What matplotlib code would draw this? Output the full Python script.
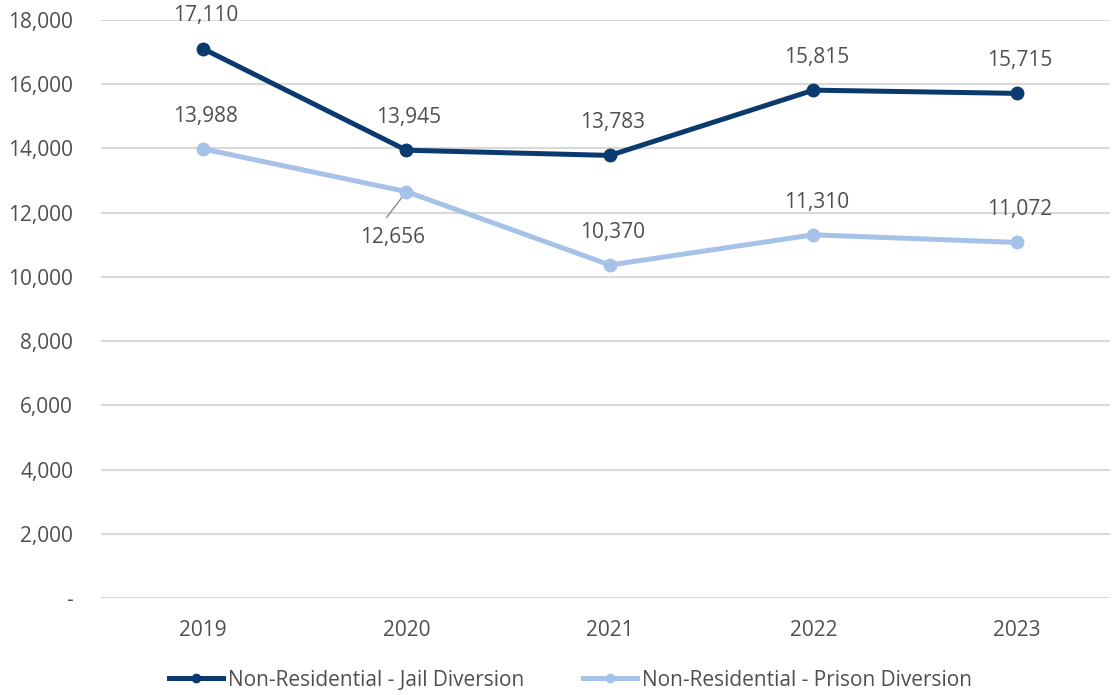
import matplotlib
matplotlib.use('Agg')
from matplotlib import pyplot as plt
from matplotlib.lines import Line2D
from matplotlib.ticker import FuncFormatter

years = ['2019', '2020', '2021', '2022', '2023']
jail = [17110, 13945, 13783, 15815, 15715]
prison = [13988, 12656, 10370, 11310, 11072]

dark = '#0B3A6E'
light = '#A7C2E8'
txt = '#4F4F4F'

plt.rcParams['font.family'] = ['Open Sans', 'DejaVu Sans']

fig = plt.figure(figsize=(11.12, 6.95), dpi=100)
ax = fig.add_axes([101 / 1112, 1 - 598 / 695, (1110 - 101) / 1112, (598 - 20) / 695])

x = list(range(len(years)))
ax.plot(x, jail, color=dark, lw=3.6, marker='o', ms=9, zorder=3)
ax.plot(x, prison, color=light, lw=3.6, marker='o', ms=9, zorder=3)

# Etykiety danych
for i, v in enumerate(jail):
    ax.annotate(f'{v:,}', (i, v), xytext=(2, 23.5), textcoords='offset points',
                ha='center', va='center', fontsize=15, color=txt)
for i, v in enumerate(prison):
    if i == 1:
        ax.annotate(f'{v:,}', (i, v), xytext=(-10, -33), textcoords='offset points',
                    ha='center', va='center', fontsize=15, color=txt, zorder=2,
                    arrowprops=dict(arrowstyle='-', color='#8C8C8C', lw=1,
                                    relpos=(0.3, 1.0), shrinkA=6, shrinkB=2))
    else:
        ax.annotate(f'{v:,}', (i, v), xytext=(2, 23.5), textcoords='offset points',
                    ha='center', va='center', fontsize=15, color=txt)

ax.set_ylim(0, 18000)
ax.set_yticks(range(0, 18001, 2000))
ax.yaxis.set_major_formatter(FuncFormatter(lambda v, p: '-' if v == 0 else f'{int(v):,}'))
ax.set_xlim(-0.5, (1110 - 203) / 203.5)
ax.set_xticks(x)
ax.set_xticklabels(years)

ax.grid(axis='y', color='#D9D9D9', lw=1.5)
ax.set_axisbelow(True)
for s in ax.spines.values():
    s.set_visible(False)
ax.tick_params(axis='both', length=0, labelsize=15, labelcolor=txt)
ax.tick_params(axis='y', pad=20)
ax.tick_params(axis='x', pad=16)

handles = [Line2D([], [], color=dark, lw=3.6, marker='o', ms=6),
           Line2D([], [], color=light, lw=3.6, marker='o', ms=6)]
fig.legend(handles, ['Non-Residential - Jail Diversion', 'Non-Residential - Prison Diversion'],
           loc='center', bbox_to_anchor=(0.513, 1 - 680 / 695), ncol=2, frameon=False,
           fontsize=15, labelcolor=txt, handlelength=2.6, handletextpad=0.25,
           columnspacing=2.8)

fig.savefig('out.png', dpi=100)
